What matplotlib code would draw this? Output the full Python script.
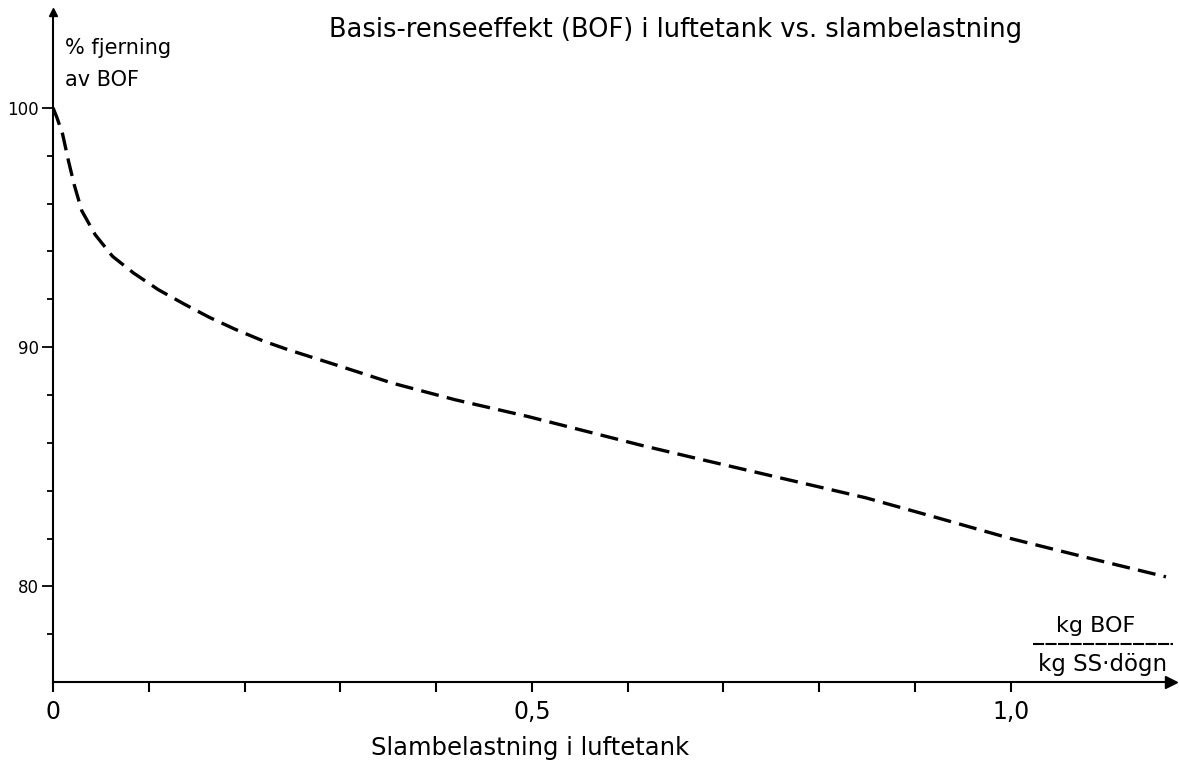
import matplotlib
matplotlib.use("Agg")
import matplotlib.pyplot as plt
from matplotlib.ticker import FixedLocator, FixedFormatter

# data
load = [0, 0.004, 0.010, 0.016, 0.022, 0.030, 0.044, 0.062, 0.084, 0.11, 0.137,
        0.163, 0.19, 0.22, 0.245, 0.30, 0.354, 0.42, 0.496, 0.555, 0.614, 0.672,
        0.731, 0.79, 0.849, 0.925, 1.0, 1.08, 1.162]
removal = [100, 99.6, 98.9, 97.8, 96.8, 95.7, 94.7, 93.8, 93.1, 92.4, 91.8,
           91.25, 90.75, 90.25, 89.9, 89.2, 88.5, 87.8, 87.1, 86.5, 85.9, 85.35,
           84.8, 84.25, 83.7, 82.85, 82.0, 81.2, 80.4]

x_ticks = [0, 0.5, 1.0]
x_ticklabels = ["0", "0,5", "1,0"]
x_minor = [0.1, 0.2, 0.3, 0.4, 0.6, 0.7, 0.8, 0.9]
y_ticks = [80, 90, 100]
y_ticklabels = ["80", "90", "100"]
y_minor = [78, 82, 84, 86, 88, 92, 94, 96, 98]

plt.rcParams["lines.scale_dashes"] = False

fig = plt.figure(figsize=(11.79, 7.63), dpi=100)
ax = fig.add_axes([0.045, 0.106, 0.948, 0.878])

ax.plot(load, removal, color="black", lw=2.4, linestyle=(0, (13, 6)))

ax.set_xlim(0, 1.167)
ax.set_ylim(76, 104)

for s in ["top", "right"]:
    ax.spines[s].set_visible(False)
for s in ["left", "bottom"]:
    ax.spines[s].set_linewidth(1.5)

# arrow heads on the axes
ax.plot(1, 76, ">k", markersize=9, transform=ax.get_yaxis_transform(), clip_on=False)
ax.plot(0, 1, "^k", markersize=6, transform=ax.get_xaxis_transform(), clip_on=False)

ax.xaxis.set_major_locator(FixedLocator(x_ticks))
ax.xaxis.set_major_formatter(FixedFormatter(x_ticklabels))
ax.xaxis.set_minor_locator(FixedLocator(x_minor))
ax.yaxis.set_major_locator(FixedLocator(y_ticks))
ax.yaxis.set_major_formatter(FixedFormatter(y_ticklabels))
ax.yaxis.set_minor_locator(FixedLocator(y_minor))

ax.tick_params(axis="x", which="major", direction="out", length=7, width=1.5, pad=6,
               labelsize=17)
ax.tick_params(axis="x", which="minor", direction="out", length=7, width=1.5)
ax.tick_params(axis="y", which="major", direction="out", length=8, width=1.3, pad=2,
               labelsize=12)
ax.tick_params(axis="y", which="minor", direction="out", length=4, width=1.3)

fig.text(0.573, 0.961, "Basis-renseeffekt (BOF) i luftetank vs. slambelastning",
         ha="center", va="center", fontsize=18.5)
fig.text(0.055, 0.937, "% fjerning", ha="left", va="center", fontsize=15)
fig.text(0.055, 0.895, "av BOF", ha="left", va="center", fontsize=15)
fig.text(0.45, 0.02, "Slambelastning i luftetank", ha="center", va="center", fontsize=17.5)

fig.text(0.929, 0.179, "kg BOF", ha="center", va="center", fontsize=16)
fig.add_artist(plt.Line2D([0.876, 0.995], [0.156, 0.156], color="black", lw=1.5,
                          linestyle=(0, (8, 1))))
fig.text(0.935, 0.129, "kg SS\u00b7dögn", ha="center", va="center", fontsize=16.5)

fig.savefig("out.png", dpi=100, facecolor="white")
